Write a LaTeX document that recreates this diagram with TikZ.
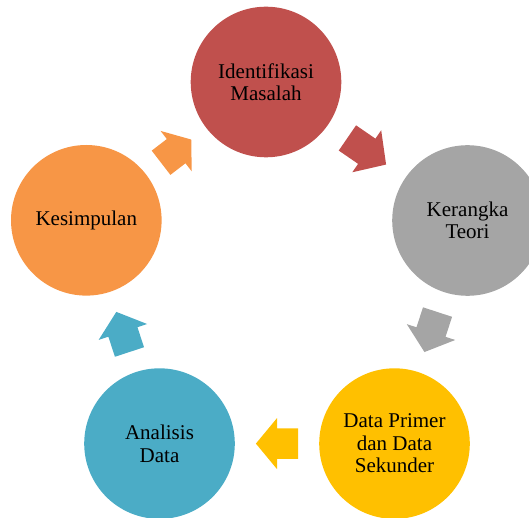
\documentclass[tikz,border=0pt]{standalone}
\usepackage{fontspec}
\setmainfont{Liberation Serif}
\usetikzlibrary{calc}
\definecolor{cRed}{HTML}{C0504D}
\definecolor{cGray}{HTML}{A5A5A5}
\definecolor{cGold}{HTML}{FFC000}
\definecolor{cBlue}{HTML}{4BACC6}
\definecolor{cOrange}{HTML}{F79646}
\tikzset{
  stage/.style={circle, minimum size=150.6pt, inner sep=0pt, align=center,
    text=black, font=\fontsize{21}{22.5}\selectfont},
}
\newcommand\cycarrow[3]{%
  \fill[#3] let \p1=(#1.center), \p2=(#2.center),
    \n1={atan2(\y2-\y1,\x2-\x1)},
    \n2={(veclen(\x2-\x1,\y2-\y1)-150.6)/4},
    \p3=($(\p1)!0.5!(\p2)$) in
    ($(\p3)+(\n1:-\n2)+(\n1+90:15.3pt)$) --
    ($(\p3)+(\n1+90:15.3pt)$) --
    ($(\p3)+(\n1+90:25.5pt)$) --
    ($(\p3)+(\n1:\n2)$) --
    ($(\p3)+(\n1-90:25.5pt)$) --
    ($(\p3)+(\n1-90:15.3pt)$) --
    ($(\p3)+(\n1:-\n2)+(\n1-90:15.3pt)$) -- cycle;}
\begin{document}
\begin{tikzpicture}[x=1pt,y=1pt]
\useasboundingbox (0,0) rectangle (529,517);
\clip (0,0) rectangle (529,517);
\node[stage, fill=cRed]    (idm) at (266,435)    {Identifikasi\\Masalah};
\node[stage, fill=cGray]   (krt) at (467.5,296.5) {Kerangka\\Teori};
\node[stage, fill=cGold]   (dps) at (394.5,73.4)  {Data Primer\\dan Data\\Sekunder};
\node[stage, fill=cBlue]   (ads) at (159.5,73.4)  {Analisis\\Data};
\node[stage, fill=cOrange] (ksp) at (86.3,296.7)  {Kesimpulan};
\cycarrow{idm}{krt}{cRed}
\cycarrow{krt}{dps}{cGray}
\cycarrow{dps}{ads}{cGold}
\cycarrow{ads}{ksp}{cBlue}
\cycarrow{ksp}{idm}{cOrange}
\end{tikzpicture}
\end{document}
